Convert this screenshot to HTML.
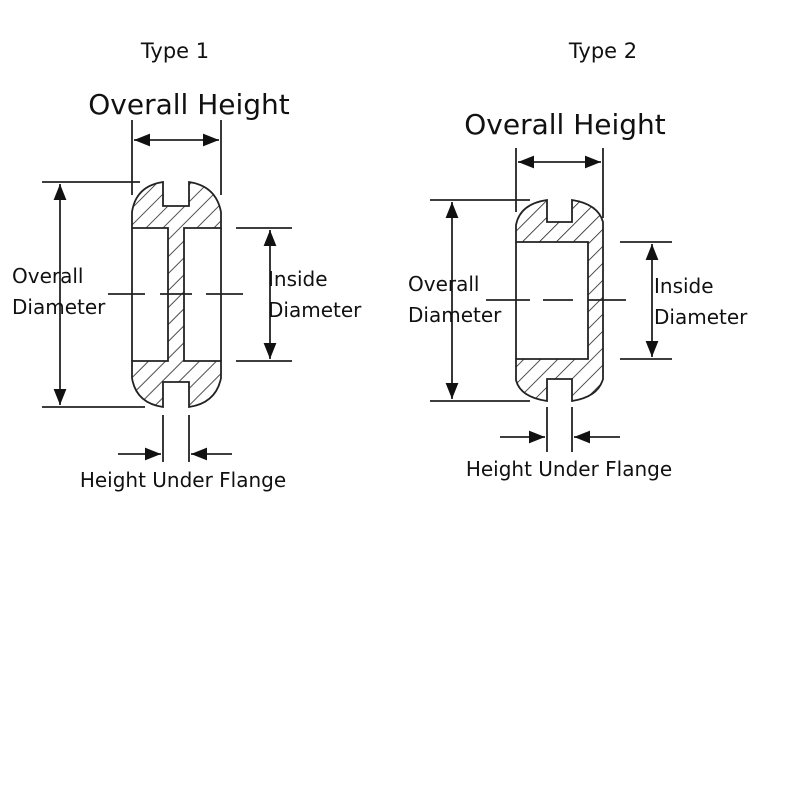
<!DOCTYPE html>
<html><head><style>body{margin:0;background:#fff}svg{display:block}text{font-family:"DejaVu Sans","Liberation Sans",sans-serif;fill:#111}</style></head>
<body>
<svg width="800" height="800" viewBox="0 0 800 800">
<defs>
<pattern id="h" width="12" height="12" patternUnits="userSpaceOnUse" patternTransform="rotate(45)">
<line x1="0" y1="0" x2="0" y2="12" stroke="#222" stroke-width="1.6"/>
</pattern>
<marker id="a" viewBox="0 0 10 10" refX="10" refY="5" markerWidth="9" markerHeight="9" orient="auto-start-reverse"><path d="M0,1 L10,5 L0,9 z" fill="#111"/></marker>
</defs>
<g stroke="#222" stroke-width="1.8" fill="none">
<path d="M132,228 L132,212 Q136,186 163,182 L163,206 L189,206 L189,182 Q216,186 221,212 L221,228 L184,228 L184,361 L221,361 L221,378 Q216,403 189,407 L189,382 L163,382 L163,407 Q136,403 132,378 L132,361 L168,361 L168,228 Z" fill="url(#h)"/>
<line x1="132" y1="228" x2="132" y2="361"/><line x1="221" y1="228" x2="221" y2="361"/>
<line x1="108" y1="294" x2="145" y2="294"/><line x1="160" y1="294" x2="192" y2="294"/><line x1="206" y1="294" x2="243" y2="294"/>
<line x1="132" y1="120" x2="132" y2="195"/><line x1="221" y1="120" x2="221" y2="195"/>
<line x1="134" y1="140" x2="219" y2="140" marker-start="url(#a)" marker-end="url(#a)"/>
<line x1="42" y1="182" x2="140" y2="182"/><line x1="42" y1="407" x2="145" y2="407"/>
<line x1="60" y1="184" x2="60" y2="405" marker-start="url(#a)" marker-end="url(#a)"/>
<line x1="236" y1="228" x2="292" y2="228"/><line x1="236" y1="361" x2="292" y2="361"/>
<line x1="270" y1="230" x2="270" y2="359" marker-start="url(#a)" marker-end="url(#a)"/>
<line x1="163" y1="415" x2="163" y2="462"/><line x1="189" y1="415" x2="189" y2="462"/>
<line x1="118" y1="454" x2="161" y2="454" marker-end="url(#a)"/><line x1="232" y1="454" x2="191" y2="454" marker-end="url(#a)"/>
<path d="M516,242 L516,225 Q520,204 547,200 L547,222 L572,222 L572,200 Q598,204 603,222 L603,379 Q598,397 572,401 L572,379 L547,379 L547,401 Q520,397 516,380 L516,359 L588,359 L588,242 Z" fill="url(#h)"/>
<line x1="516" y1="242" x2="516" y2="359"/>
<line x1="486" y1="300" x2="530" y2="300"/><line x1="543" y1="300" x2="573" y2="300"/><line x1="588" y1="300" x2="626" y2="300"/>
<line x1="516" y1="148" x2="516" y2="212"/><line x1="603" y1="148" x2="603" y2="218"/>
<line x1="518" y1="162" x2="601" y2="162" marker-start="url(#a)" marker-end="url(#a)"/>
<line x1="430" y1="200" x2="530" y2="200"/><line x1="430" y1="401" x2="530" y2="401"/>
<line x1="452" y1="202" x2="452" y2="399" marker-start="url(#a)" marker-end="url(#a)"/>
<line x1="620" y1="242" x2="672" y2="242"/><line x1="620" y1="359" x2="672" y2="359"/>
<line x1="652" y1="244" x2="652" y2="357" marker-start="url(#a)" marker-end="url(#a)"/>
<line x1="547" y1="407" x2="547" y2="452"/><line x1="572" y1="407" x2="572" y2="452"/>
<line x1="500" y1="437" x2="545" y2="437" marker-end="url(#a)"/><line x1="620" y1="437" x2="574" y2="437" marker-end="url(#a)"/>
</g>
<g font-size="20">
<text x="175" y="58" text-anchor="middle" font-size="21">Type 1</text>
<text x="603" y="58" text-anchor="middle" font-size="21">Type 2</text>
<text x="189" y="114" text-anchor="middle" font-size="28">Overall Height</text>
<text x="565" y="134" text-anchor="middle" font-size="28">Overall Height</text>
<text x="12" y="283">Overall</text><text x="12" y="314">Diameter</text>
<text x="268" y="286">Inside</text><text x="268" y="317">Diameter</text>
<text x="183" y="487" text-anchor="middle">Height Under Flange</text>
<text x="408" y="291">Overall</text><text x="408" y="322">Diameter</text>
<text x="654" y="293">Inside</text><text x="654" y="324">Diameter</text>
<text x="569" y="476" text-anchor="middle">Height Under Flange</text>
</g>
</svg>
</body></html>
